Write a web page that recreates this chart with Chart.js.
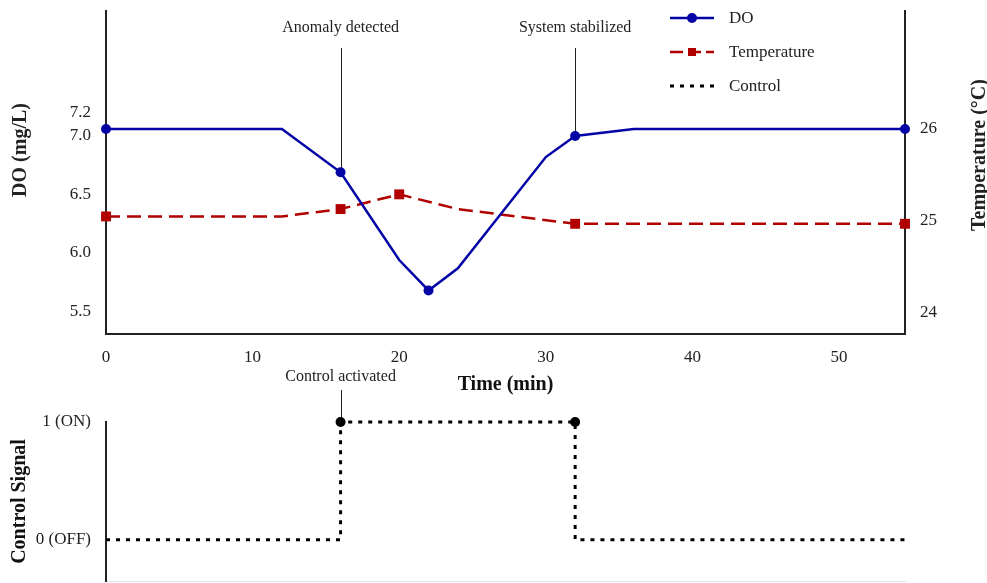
<!DOCTYPE html>
<html>
<head>
<meta charset="utf-8">
<script src="https://cdn.jsdelivr.net/npm/chart.js@4.4.1/dist/chart.umd.min.js"></script>
<style>
  body { margin: 0; background: #fff; }
  #wrap { position: relative; width: 987px; height: 583px; overflow: hidden; }
  canvas { position: absolute; left: 0; }
</style>
</head>
<body>
<div id="wrap">
  <canvas id="topChart" width="987" height="400" style="top:0"></canvas>
  <canvas id="ctrlChart" width="987" height="223" style="top:360px"></canvas>
</div>
<script>
// data
const doTimes = [0, 12, 16, 20, 22, 24, 30, 32, 36, 54.5];
const doValues = [7.06, 7.06, 6.69, 5.94, 5.68, 5.87, 6.82, 7.00, 7.06, 7.06];
const doMarkTimes = [0, 16, 22, 32, 54.5];

const tempTimes = [0, 12, 16, 20, 24, 32, 54.5];
const tempValues = [25.04, 25.04, 25.12, 25.28, 25.12, 24.96, 24.96];
const tempMarkTimes = [0, 16, 20, 32, 54.5];

const ctrlTimes = [0, 16, 16, 32, 32, 54.5];
const ctrlValues = [0, 0, 1, 1, 0, 0];

const xTicks = [0, 10, 20, 30, 40, 50];
const doTicks = [5.5, 6.0, 6.5, 7.0, 7.2];
const tempTicks = [24, 25, 26];
const ctrlTicks = [0, 1];
const ctrlTickLabels = ['0 (OFF)', '1 (ON)'];

const notes = [
  { t: 16, text: 'Anomaly detected' },
  { t: 32, text: 'System stabilized' }
];
const ctrlNote = { t: 16, text: 'Control activated' };

const FONT = "'Liberation Serif', 'Times New Roman', serif";
const DO_COLOR = '#0303a6';
const TEMP_COLOR = '#b00000';
const AXIS_COLOR = '#222';

Chart.defaults.font.family = FONT;
Chart.defaults.font.size = 17;
Chart.defaults.color = '#222';

const toXY = (ts, vs) => ts.map((t, i) => ({ x: t, y: vs[i] }));
const setTicks = list => scale => { scale.ticks = list.map(v => ({ value: v })); };
// fixed axis size, no extra room for overhanging tick labels
const fixWidth = w => s => { s.width = w; s.paddingTop = 0; s.paddingBottom = 0; };
const fixHeight = h => s => { s.height = h; s.paddingLeft = 0; s.paddingRight = 0; };

// annotations, legend and rotated titles for the top chart
const topDecor = {
  id: 'topDecor',
  beforeDatasetsDraw(chart) {
    const ctx = chart.ctx, x = chart.scales.x, y = chart.scales.yDO;
    ctx.save();
    ctx.strokeStyle = AXIS_COLOR;
    ctx.lineWidth = 1;
    notes.forEach(n => {
      const px = Math.round(x.getPixelForValue(n.t)) + 0.5;
      const py = y.getPixelForValue(doValues[doTimes.indexOf(n.t)]);
      ctx.beginPath();
      ctx.moveTo(px, 48);
      ctx.lineTo(px, py);
      ctx.stroke();
    });
    ctx.restore();
  },
  afterDraw(chart) {
    const ctx = chart.ctx, x = chart.scales.x;
    ctx.save();
    ctx.fillStyle = '#222';
    ctx.font = '16px ' + FONT;
    ctx.textAlign = 'center';
    ctx.textBaseline = 'middle';
    notes.forEach(n => ctx.fillText(n.text, x.getPixelForValue(n.t), 28));

    // legend
    const lx0 = 670, lx1 = 714, lxm = 692;
    ctx.lineWidth = 2.5;
    ctx.strokeStyle = DO_COLOR;
    ctx.beginPath(); ctx.moveTo(lx0, 18); ctx.lineTo(lx1, 18); ctx.stroke();
    ctx.fillStyle = DO_COLOR;
    ctx.beginPath(); ctx.arc(lxm, 18, 5, 0, Math.PI * 2); ctx.fill();

    ctx.strokeStyle = TEMP_COLOR;
    ctx.setLineDash([13, 5]);
    ctx.beginPath(); ctx.moveTo(lx0, 52); ctx.lineTo(lx1, 52); ctx.stroke();
    ctx.setLineDash([]);
    ctx.fillStyle = TEMP_COLOR;
    ctx.fillRect(lxm - 4, 48, 8, 8);

    ctx.strokeStyle = '#000';
    ctx.lineWidth = 3;
    ctx.setLineDash([4, 6]);
    ctx.beginPath(); ctx.moveTo(lx0, 86); ctx.lineTo(lx1, 86); ctx.stroke();
    ctx.setLineDash([]);

    ctx.fillStyle = '#222';
    ctx.font = '17px ' + FONT;
    ctx.textAlign = 'left';
    ctx.fillText('DO', 729, 19);
    ctx.fillText('Temperature', 729, 53);
    ctx.fillText('Control', 729, 87);

    // rotated axis titles
    ctx.font = 'bold 20px ' + FONT;
    ctx.textAlign = 'center';
    [['DO (mg/L)', 21, 150], ['Temperature (\u00B0C)', 980, 155]].forEach(([txt, tx, ty]) => {
      ctx.save();
      ctx.translate(tx, ty);
      ctx.rotate(-Math.PI / 2);
      ctx.fillText(txt, 0, 0);
      ctx.restore();
    });
    ctx.restore();
  }
};

const topChart = new Chart(document.getElementById('topChart'), {
  type: 'line',
  data: {
    datasets: [{
      label: 'DO',
      data: toXY(doTimes, doValues),
      yAxisID: 'yDO',
      borderColor: DO_COLOR,
      backgroundColor: DO_COLOR,
      borderWidth: 2.5,
      pointRadius: c => doMarkTimes.includes(doTimes[c.dataIndex]) ? 5 : 0,
      pointBorderWidth: 0,
      clip: false,
      order: 1
    }, {
      label: 'Temperature',
      data: toXY(tempTimes, tempValues),
      yAxisID: 'yT',
      borderColor: TEMP_COLOR,
      backgroundColor: TEMP_COLOR,
      borderWidth: 2.5,
      borderDash: [14, 7],
      pointStyle: 'rect',
      pointRadius: c => tempMarkTimes.includes(tempTimes[c.dataIndex]) ? 7 : 0,
      pointBorderWidth: 0,
      clip: false,
      order: 2
    }]
  },
  options: {
    responsive: false,
    animation: false,
    devicePixelRatio: 1,
    layout: { padding: { top: 11, left: 0, right: 0, bottom: 0 } },
    plugins: { legend: { display: false }, tooltip: { enabled: false } },
    scales: {
      x: {
        type: 'linear',
        min: 0,
        max: 54.5,
        afterBuildTicks: setTicks(xTicks),
        afterFit: fixHeight(66),
        grid: { display: false, drawTicks: false },
        border: { color: AXIS_COLOR, width: 2 },
        ticks: { padding: 13, color: '#222' },
        title: {
          display: true,
          text: 'Time (min)',
          font: { size: 20, weight: 'bold' },
          color: '#111',
          padding: { top: 0, bottom: 3 }
        }
      },
      yDO: {
        position: 'left',
        min: 5.308,
        max: 8.068,
        afterBuildTicks: setTicks(doTicks),
        afterFit: fixWidth(106),
        grid: { display: false, drawTicks: false },
        border: { color: AXIS_COLOR, width: 2 },
        ticks: { padding: 15, callback: v => v.toFixed(1) }
      },
      yT: {
        position: 'right',
        min: 23.762,
        max: 27.273,
        afterBuildTicks: setTicks(tempTicks),
        afterFit: fixWidth(82),
        grid: { display: false, drawTicks: false },
        border: { color: AXIS_COLOR, width: 2 },
        ticks: { padding: 15, callback: v => String(v) }
      }
    }
  },
  plugins: [topDecor]
});

const ctrlDecor = {
  id: 'ctrlDecor',
  beforeDatasetsDraw(chart) {
    const ctx = chart.ctx, x = chart.scales.x, y = chart.scales.y;
    const px = Math.round(x.getPixelForValue(ctrlNote.t)) + 0.5;
    ctx.save();
    ctx.strokeStyle = AXIS_COLOR;
    ctx.lineWidth = 1;
    ctx.beginPath();
    ctx.moveTo(px, 30);
    ctx.lineTo(px, y.getPixelForValue(1));
    ctx.stroke();
    ctx.fillStyle = '#222';
    ctx.font = '16px ' + FONT;
    ctx.textAlign = 'center';
    ctx.textBaseline = 'middle';
    ctx.fillText(ctrlNote.text, x.getPixelForValue(ctrlNote.t), 17);
    ctx.restore();
  }
};

const ctrlChart = new Chart(document.getElementById('ctrlChart'), {
  type: 'line',
  data: {
    datasets: [{
      label: 'Control',
      data: toXY(ctrlTimes, ctrlValues),
      borderColor: '#000',
      backgroundColor: '#000',
      borderWidth: 3,
      borderDash: [4, 6],
      pointRadius: c => ctrlValues[c.dataIndex] === 1 ? 5 : 0,
      pointBorderWidth: 0,
      clip: false
    }]
  },
  options: {
    responsive: false,
    animation: false,
    devicePixelRatio: 1,
    layout: { padding: { top: 62, left: 0, right: 82, bottom: 0 } },
    plugins: { legend: { display: false }, tooltip: { enabled: false } },
    scales: {
      x: {
        type: 'linear',
        min: 0,
        max: 54.5,
        afterBuildTicks: setTicks(xTicks),
        afterFit: fixHeight(2),
        grid: { display: false, drawTicks: false },
        border: { color: '#e6e6e6', width: 1 },
        ticks: { display: false }
      },
      y: {
        min: -0.35,
        max: 1,
        afterBuildTicks: setTicks(ctrlTicks),
        afterFit: fixWidth(106),
        grid: { display: false, drawTicks: false },
        border: { color: AXIS_COLOR, width: 2 },
        ticks: { padding: 15, callback: v => ctrlTickLabels[v] },
        title: {
          display: true,
          text: 'Control Signal',
          font: { size: 20, weight: 'bold' },
          color: '#111',
          padding: { top: 8, bottom: 0 }
        }
      }
    }
  },
  plugins: [ctrlDecor]
});
</script>
</body>
</html>
